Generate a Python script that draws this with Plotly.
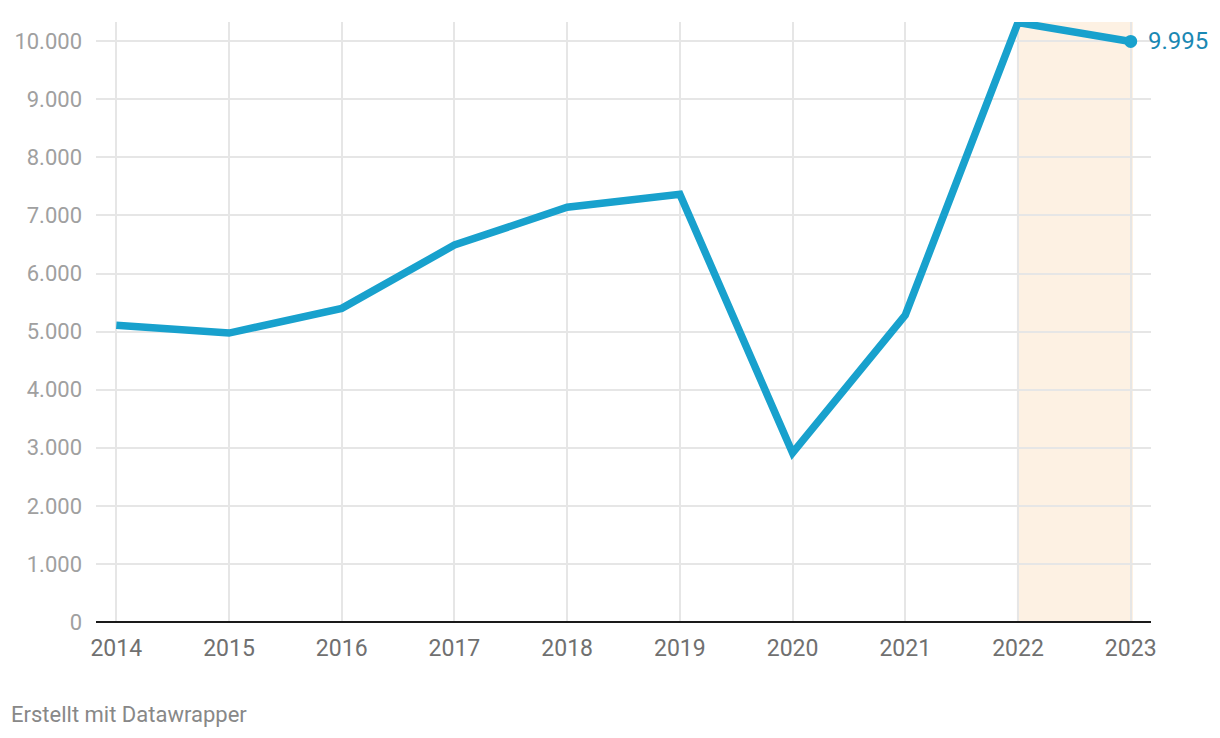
import plotly.graph_objects as go

years = [2014, 2015, 2016, 2017, 2018, 2019, 2020, 2021, 2022, 2023]
values = [5110, 4975, 5400, 6490, 7140, 7365, 2910, 5285, 10320, 9995]
y_ticks = [0, 1000, 2000, 3000, 4000, 5000, 6000, 7000, 8000, 9000, 10000]
y_tick_labels = ["0", "1.000", "2.000", "3.000", "4.000", "5.000", "6.000", "7.000", "8.000", "9.000", "10.000"]
last_label = "9.995"
highlight_start, highlight_end = 2022, 2023

line_color = "#18a1cd"

fig = go.Figure()
fig.add_trace(go.Scatter(
    x=years, y=values, mode="lines",
    line=dict(color=line_color, width=7.5),
    cliponaxis=False, hoverinfo="skip", showlegend=False,
))
fig.add_trace(go.Scatter(
    x=[years[-1]], y=[values[-1]], mode="markers",
    marker=dict(color=line_color, size=13),
    cliponaxis=False, hoverinfo="skip", showlegend=False,
))

fig.add_shape(type="rect", xref="x", yref="y",
              x0=highlight_start - 0.01, x1=highlight_end + 0.02, y0=0, y1=10330,
              fillcolor="#fdf1e3", line=dict(width=0), layer="below")

fig.update_layout(
    width=1220, height=738,
    margin=dict(l=96, r=69, t=22, b=116),
    paper_bgcolor="white", plot_bgcolor="rgba(0,0,0,0)",
    font=dict(family="Roboto", color="#999999"),
    xaxis=dict(
        range=[2013.82, 2023.18],
        tickvals=years, ticktext=[str(y) for y in years],
        showgrid=True, gridcolor="#e6e6e6", gridwidth=1.5,
        zeroline=False, showline=False, ticks="",
        tickfont=dict(family="Roboto", size=23, color="#707070"),
        ticklabelstandoff=10,
    ),
    yaxis=dict(
        range=[0, 10330],
        tickvals=y_ticks, ticktext=y_tick_labels,
        showgrid=True, gridcolor="#e6e6e6", gridwidth=1.5,
        zeroline=True, zerolinecolor="#1a1a1a", zerolinewidth=2,
        showline=False, ticks="",
        tickfont=dict(family="Roboto", size=22, color="#a0a0a0"),
        ticklabelstandoff=13,
    ),
    annotations=[
        dict(
            text="Erstellt mit Datawrapper", xref="paper", yref="paper",
            x=-87/1055, y=-92/600, xanchor="left", yanchor="middle",
            showarrow=False, font=dict(family="Roboto", size=22, color="#888888"),
        ),
        dict(
            text=last_label, xref="x", yref="y", x=years[-1], y=values[-1],
            xanchor="left", yanchor="middle", xshift=15, showarrow=False,
            font=dict(family="Roboto", size=24, color="#1a88b3"),
        ),
    ],
)

fig.write_html("out.html")
